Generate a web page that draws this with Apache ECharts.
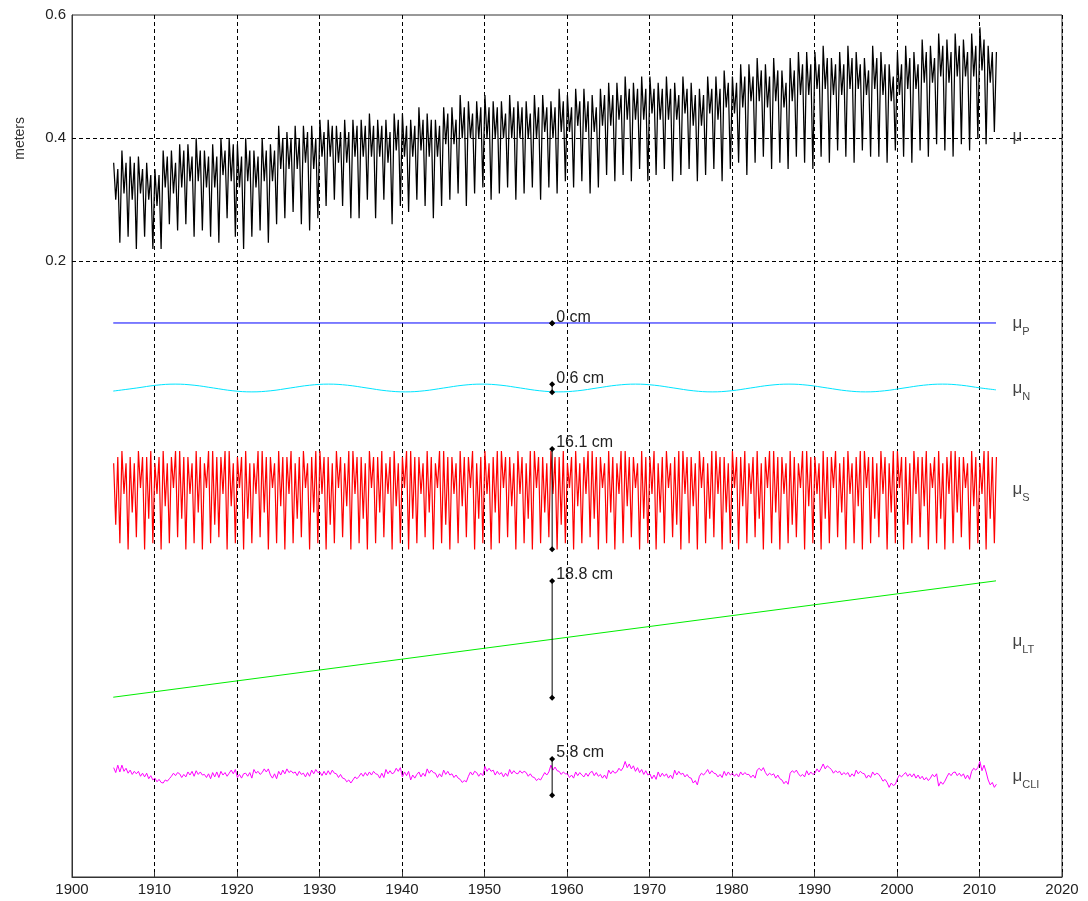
<!DOCTYPE html>
<html><head><meta charset="utf-8">
<script src="https://cdn.jsdelivr.net/npm/echarts@6/dist/echarts.min.js"></script>
<style>html,body{margin:0;padding:0;background:#fff}#c{width:1088px;height:901px}</style>
</head><body><div id="c"></div>
<script>
const firstYear = 1905;
const xMin = 1900, xMax = 2020, xStep = 10;
const yTickLabels = ['0.2', '0.4', '0.6'];
// observed mean sea level mu (cm): per year [high, dip, high, low]
const mu = [
 [36,30,35,23],[38,31,36,24],[37,30,36,22],[37,31,35,24],[36,30,34,22],[35,29,34,22],[38,32,37,26],[38,31,36,25],[39,32,38,26],[39,33,37,24],
 [40,33,38,25],[38,32,37,24],[39,32,37,23],[40,34,38,27],[40,33,39,24],[39,32,37,22],[40,33,38,24],[38,32,37,25],[40,33,38,23],[39,33,38,26],
 [42,35,40,27],[41,35,40,28],[42,35,40,26],[42,36,41,25],[42,35,40,27],[43,37,41,29],[43,37,42,30],[42,36,41,29],[43,36,41,27],[43,37,42,27],
 [43,37,42,30],[44,37,42,27],[43,37,42,30],[43,36,41,26],[44,38,43,29],[44,37,42,28],[43,37,42,30],[45,38,43,29],[44,37,43,27],[43,37,42,29],
 [45,39,44,30],[45,39,43,31],[47,40,45,29],[46,40,44,31],[46,40,45,32],[47,40,45,30],[46,40,45,31],[46,40,44,32],[47,40,45,30],[46,40,45,31],
 [46,40,44,32],[47,40,45,30],[47,41,45,32],[46,40,45,31],[48,41,46,33],[47,41,45,32],[48,42,46,33],[48,41,46,31],[47,41,45,32],[48,42,47,34],
 [49,42,47,33],[49,43,47,34],[50,43,48,33],[49,43,48,35],[50,43,48,33],[50,44,48,34],[49,43,48,35],[50,43,48,33],[49,43,47,34],[50,44,48,35],
 [49,42,47,33],[48,42,47,34],[50,44,48,35],[50,43,48,33],[51,45,49,35],[50,44,49,36],[52,45,50,34],[52,46,50,36],[53,46,51,37],[52,45,50,35],
 [53,46,51,36],[51,45,49,35],[53,46,51,37],[54,47,52,36],[54,47,52,35],[54,48,52,37],[55,48,53,36],[53,47,52,38],[54,47,52,37],[55,48,53,36],
 [54,48,52,38],[53,47,51,37],[55,48,53,37],[54,47,52,36],[52,46,50,38],[54,47,52,37],[55,48,53,36],[54,48,52,38],[56,49,54,37],[55,49,53,39],
 [57,50,55,38],[56,49,54,37],[57,50,55,39],[56,50,54,38],[57,50,55,40],[58,51,56,39],[55,49,54,41]];
const muEnd = 54;
// seasonal component (cm): per year [high, dip, high, low]
const seas = [
 [6,-4,7,-7],[8,1,6,-8],[7,-2,6,-6],[8,2,7,-8],[7,-3,8,-7],[6,1,7,-8],[8,-1,6,-7],[7,2,8,-6],[8,-3,7,-8],[7,1,6,-7],
 [8,-2,7,-8],[6,2,8,-7],[8,-4,7,-6],[7,1,8,-8],[8,-1,6,-7],[7,2,7,-8],[8,-3,6,-7],[6,1,8,-6],[8,-2,7,-8],[7,2,6,-7],
 [8,-1,7,-8],[7,1,8,-7],[6,-3,7,-6],[8,2,6,-8],[7,-2,8,-7],[8,1,7,-8],[7,-4,6,-7],[8,2,7,-6],[6,-1,8,-8],[8,1,7,-7],
 [7,-3,6,-8],[8,2,7,-7],[7,-2,8,-6],[6,1,7,-8],[8,-1,6,-7],[7,2,8,-8],[8,-3,7,-7],[7,1,6,-6],[8,-2,7,-8],[6,2,8,-7],
 [8,-4,7,-8],[7,1,6,-7],[8,-1,7,-6],[7,2,8,-8],[6,-3,7,-7],[8,1,6,-8],[7,-2,8,-7],[8,2,7,-6],[7,-1,6,-8],[8,1,7,-7],
 [6,-3,8,-8],[8,2,7,-7],[7,-2,6,-6],[8,1,7,-8],[7,-4,8,-7],[6,2,7,-8],[8,-1,6,-7],[7,1,8,-6],[8,-3,7,-8],[7,2,6,-7],
 [8,-2,7,-8],[6,1,8,-7],[8,-1,7,-6],[7,2,6,-8],[8,-3,7,-7],[7,1,8,-8],[6,-2,7,-7],[8,2,6,-6],[7,-4,8,-8],[8,1,7,-7],
 [7,-1,6,-8],[8,2,7,-7],[6,-3,8,-6],[8,1,7,-8],[7,-2,6,-7],[8,2,7,-8],[7,-1,8,-7],[6,1,7,-6],[8,-3,6,-8],[7,2,8,-7],
 [8,-2,7,-8],[7,1,6,-7],[8,-4,7,-6],[6,2,8,-8],[8,-1,7,-7],[7,1,6,-8],[8,-3,7,-7],[7,2,8,-6],[6,-2,7,-8],[8,1,6,-7],
 [7,-1,8,-8],[8,2,7,-7],[7,-3,6,-6],[8,1,7,-8],[6,-2,8,-7],[8,2,7,-8],[7,-4,6,-7],[8,1,7,-6],[7,-1,8,-8],[6,2,7,-7],
 [8,-3,6,-8],[7,1,8,-7],[8,-2,7,-6],[7,2,6,-8],[8,-1,7,-7],[6,1,8,-8],[8,-3,7,-7]];
const seasEnd = 7;
// climatic component (cm): four values per year
const cli = [
 [1.2,0.4,1.6,0.5],[1.6,0.6,1.1,0.3],[0.8,0.1,0.6,0.2],[0.6,-0.2,0.3,-0.3],[0.3,-0.6,-0.1,-0.8],[-0.5,-1.1,-0.7,-1.2],[-1.3,-0.8,-1.0,-0.6],[-0.2,0.3,-0.1,0.4],[0.2,-0.4,0.1,-0.3],[0.5,0.0,0.6,-0.2],
 [0.7,0.1,0.5,0.0],[0.1,-0.4,0.2,-0.6],[0.4,-0.3,0.5,-0.4],[0.6,0.0,0.4,-0.2],[0.3,0.8,0.2,0.9],[-0.4,0.1,-0.5,0.2],[0.3,-0.2,0.4,-0.5],[0.9,0.3,0.6,0.1],[0.4,1.0,0.5,1.0],[0.0,-0.5,0.2,-0.6],
 [0.6,0.0,0.8,0.2],[1.0,0.4,0.7,0.3],[0.5,-0.1,0.6,0.1],[0.3,-0.3,0.4,-0.2],[0.8,0.2,0.9,0.4],[0.5,-0.1,0.6,0.0],[0.7,0.1,0.8,0.3],[0.2,-0.4,0.1,-0.5],[-0.6,-1.1,-0.8,-1.3],[-0.8,-0.3,-0.6,-0.2],
 [0.3,-0.2,0.4,-0.1],[0.5,0.0,0.6,0.2],[0.1,-0.5,0.3,-0.4],[0.9,0.2,0.7,0.2],[0.4,1.1,0.6,1.2],[-0.3,0.5,-0.1,0.6],[-0.8,0.0,-0.5,0.1],[0.5,-0.3,0.3,-0.2],[1.0,0.3,0.8,0.4],[0.3,-0.4,0.2,-0.3],
 [0.8,0.1,0.6,0.0],[0.2,-0.4,0.0,-0.5],[-0.7,-1.2,-0.9,-1.1],[-0.2,0.5,0.0,0.6],[0.4,-0.2,0.3,-0.1],[1.4,0.6,1.1,0.6],[0.8,0.0,0.6,0.1],[0.4,-0.3,0.3,-0.2],[0.9,0.2,0.7,0.3],[0.2,0.7,0.3,0.6],
 [0.4,-0.2,0.2,-0.3],[-0.4,-0.9,-0.6,-0.8],[-0.2,0.4,0.0,0.5],[1.6,0.8,1.3,0.7],[0.6,0.1,0.5,0.2],[0.2,-0.4,0.0,-0.5],[0.5,-0.1,0.4,0.0],[-0.3,0.3,-0.2,0.4],[0.6,-0.1,0.4,-0.2],[0.1,-0.5,0.0,-0.6],
 [0.8,0.2,0.7,0.3],[0.5,1.1,0.7,1.2],[2.2,1.2,1.8,1.0],[1.5,0.6,1.2,0.4],[0.9,0.1,0.7,0.0],[0.2,-0.6,0.0,-0.7],[0.5,-0.3,0.3,-0.2],[0.2,-0.5,0.0,-0.6],[0.8,0.0,0.6,0.1],[0.3,-0.3,0.1,-0.4],
 [-0.5,-1.3,-0.9,-1.6],[-0.2,0.3,0.0,0.4],[0.9,0.2,0.7,0.3],[0.2,-0.3,0.1,-0.4],[0.6,-0.1,0.5,0.0],[0.3,-0.2,0.2,-0.3],[0.5,0.0,0.4,0.1],[0.1,-0.4,0.0,-0.5],[0.8,1.1,0.7,1.2],[0.4,-0.1,0.3,0.0],
 [0.2,-0.5,0.0,-0.6],[-0.8,-1.4,-1.0,-1.5],[0.3,0.7,0.4,0.8],[0.2,-0.2,0.1,-0.3],[0.7,0.0,0.5,0.1],[0.3,1.0,0.5,1.1],[1.8,1.0,1.5,1.2],[0.9,0.3,0.7,0.4],[0.6,0.0,0.4,0.1],[0.4,-0.3,0.2,-0.2],
 [0.8,0.2,0.6,0.3],[0.2,-0.5,0.0,-0.4],[0.5,0.0,0.3,0.1],[-0.4,-1.0,-0.7,-1.2],[-2.0,-1.3,-1.7,-1.5],[-0.6,0.0,-0.3,0.1],[0.4,-0.2,0.2,-0.3],[0.2,-0.5,0.0,-0.6],[-0.2,-0.8,-0.4,-0.9],[-0.5,0.1,-0.3,0.2],
 [-1.8,-1.1,-1.5,-1.0],[-0.3,0.3,-0.1,0.4],[0.5,-0.1,0.3,-0.2],[0.2,-0.6,0.0,-0.7],[0.6,1.1,0.8,1.2],[2.2,0.7,1.6,0.5],[-0.8,-1.6,-1.2,-2.0]];
const cliEnd = -1.5;
// nodal component (cm)
const nYears = [1905,1907.85,1910.2,1912.5,1914.8,1917.15,1919.5,1921.8,1924.1,1926.45,1928.8,1931.1,1933.4,1935.75,1938.1,1940.4,
  1942.7,1945.05,1947.4,1949.7,1952,1954.35,1956.7,1959,1961.3,1963.65,1966,1968.3,1970.6,1972.95,1975.3,1977.6,
  1979.9,1982.25,1984.6,1986.9,1989.2,1991.55,1993.9,1996.2,1998.5,2000.85,2003.2,2005.5,2007.8,2010.15,2012];
const nVals = [-0.5,0,0.45,0.63,0.45,0,-0.45,-0.63,-0.45,0,0.45,0.63,0.45,0,-0.45,-0.63,
  -0.45,0,0.45,0.63,0.45,0,-0.45,-0.63,-0.45,0,0.45,0.63,0.45,0,-0.45,-0.63,
  -0.45,0,0.45,0.63,0.45,0,-0.45,-0.63,-0.45,0,0.45,0.63,0.45,0,-0.3];
// polar component and long-term trend (m)
const pYears = [1905, 2012], pVals = [0.0998, 0.0998];
const ltYears = [1905, 2012], ltVals = [-0.508, -0.319];
// display offsets (m) of the component rows
const offN = -0.0058, offS = -0.188, offCLI = -0.6344;
// range annotations (m)
const rangeYear = 1958.2;
const rangeText = ['0 cm', '0.6 cm', '16.1 cm', '18.8 cm', '5.8 cm'];
const rangeHi = [0.0993, 0.0002, -0.1049, -0.3193, -0.6084];
const rangeLo = [0.0993, -0.0128, -0.2678, -0.5088, -0.6673];
// row labels
const rowMain = ['μ', 'μ', 'μ', 'μ', 'μ', 'μ'];
const rowSub = ['', 'P', 'N', 'S', 'LT', 'CLI'];
const rowAnchor = [0.403, 0.0996, -0.0059, -0.170, -0.4169, -0.6361];
const labelYear = 2014;

const FONT = '"Liberation Sans", Arial, sans-serif';
function quarterly(rows, endVal, base) {
  const d = [];
  rows.forEach((r, i) => r.forEach((v, q) => d.push([firstYear + i + q * 0.25 + 0.05, base + v / 100])));
  d.push([firstYear + rows.length + 0.05, base + endVal / 100]);
  return d;
}
const muData = quarterly(mu, muEnd, 0);
const sData = quarterly(seas, seasEnd, offS);
const cliData = quarterly(cli, cliEnd, offCLI);
const nData = nYears.map((y, i) => [y, offN + nVals[i] / 100]);
const pData = pYears.map((y, i) => [y, pVals[i]]);
const ltData = ltYears.map((y, i) => [y, ltVals[i]]);

function lineSeries(data, color, width, extra) {
  return Object.assign({ type: 'line', data, showSymbol: false, symbol: 'none', lineStyle: { color, width }, itemStyle: { color }, animation: false, silent: true, z: 3 }, extra || {});
}
const series = [
  lineSeries(muData, '#000', 1.25, {
    markLine: { silent: true, symbol: 'none', label: { show: false },
      lineStyle: { color: '#000', type: [4, 3], width: 1 },
      data: [{ yAxis: 0.2 }, { yAxis: 0.4 }] }
  }),
  lineSeries(pData, '#0000ff', 1),
  lineSeries(nData, '#00e5ff', 1, { smooth: 0.4 }),
  lineSeries(sData, '#ff0000', 1.2),
  lineSeries(ltData, '#00ee00', 1),
  lineSeries(cliData, '#ff00ff', 1),
];
rangeText.forEach((t, i) => {
  series.push({
    type: 'line', animation: false, silent: true, z: 5,
    data: [[rangeYear, rangeHi[i]], [rangeYear, rangeLo[i]]],
    symbol: 'diamond', symbolSize: 6, showSymbol: true,
    lineStyle: { color: '#000', width: 1 }, itemStyle: { color: '#000' },
    label: { show: true, position: 'right', distance: 1, offset: [0, -6], color: '#222', fontSize: 16, fontFamily: FONT,
      formatter: (p) => p.dataIndex === 0 ? t : '' }
  });
});
series.push({
  type: 'scatter', animation: false, silent: true, symbolSize: 0,
  data: rowAnchor.map((v, i) => [labelYear, v]),
  label: { show: true, position: 'right', distance: 0,
    formatter: (p) => '{m|' + rowMain[p.dataIndex] + '}' + (rowSub[p.dataIndex] ? '{s|' + rowSub[p.dataIndex] + '}' : ''),
    rich: { m: { fontSize: 17, lineHeight: 28, color: '#111', fontFamily: FONT },
            s: { fontSize: 11, lineHeight: 12, verticalAlign: 'bottom', color: '#111', fontFamily: FONT } } }
});

const chart = echarts.init(document.getElementById('c'), null, { renderer: 'canvas' });
chart.setOption({
  backgroundColor: '#fff',
  animation: false,
  grid: { left: 72, right: 26, top: 15, bottom: 24, show: true, borderColor: '#333', borderWidth: 1, backgroundColor: 'transparent' },
  xAxis: { type: 'value', min: xMin, max: xMax, interval: xStep,
    axisLine: { show: true, onZero: false, lineStyle: { color: '#333', width: 1 } },
    axisTick: { show: true, inside: true, length: 5, lineStyle: { color: '#333' } },
    axisLabel: { color: '#222', fontSize: 15, fontFamily: FONT, margin: 5, formatter: (v) => String(v) },
    splitLine: { show: true, lineStyle: { color: '#000', type: [4, 3], width: 1 } } },
  yAxis: { type: 'value', min: -0.8, max: 0.6, interval: 0.2,
    axisLine: { show: true, onZero: false, lineStyle: { color: '#333', width: 1 } },
    axisTick: { show: false },
    axisLabel: { color: '#222', fontSize: 15, fontFamily: FONT, margin: 6,
      formatter: (v) => { const s = v.toFixed(1); return yTickLabels.indexOf(s) >= 0 ? s : ''; } },
    splitLine: { show: false } },
  graphic: [{ type: 'text', left: 13, top: 117, rotation: Math.PI / 2,
    style: { text: 'meters', fill: '#333', font: '14px "Liberation Sans", Arial, sans-serif' } }],
  series
});
</script></body></html>
